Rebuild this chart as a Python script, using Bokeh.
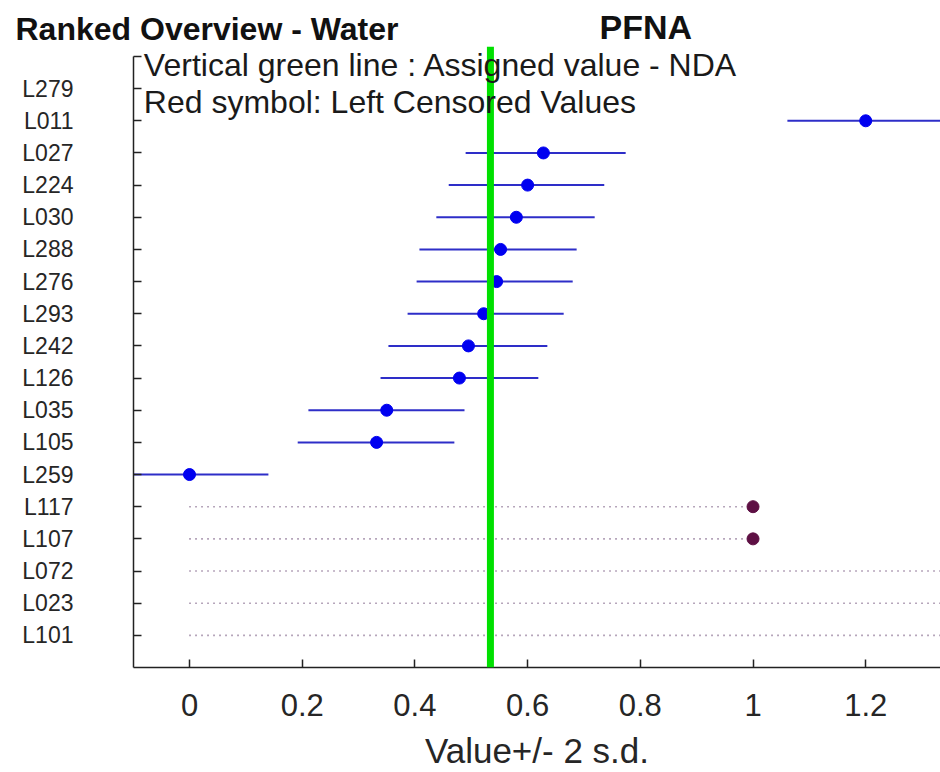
from bokeh.plotting import figure
from bokeh.layouts import column
from bokeh.models import Span, Label, FixedTicker, ColumnDataSource
from bokeh.embed import file_html
from bokeh.resources import INLINE

# ---- data ----
labs = ["L279", "L011", "L027", "L224", "L030", "L288", "L276", "L293", "L242",
        "L126", "L035", "L105", "L259", "L117", "L107", "L072", "L023", "L101"]

meas_labs = ["L011", "L027", "L224", "L030", "L288", "L276", "L293", "L242",
             "L126", "L035", "L105", "L259"]
meas_val = [1.200, 0.628, 0.600, 0.580, 0.552, 0.545, 0.522, 0.495, 0.479, 0.350, 0.332, 0.000]
meas_low = [1.061, 0.490, 0.460, 0.438, 0.408, 0.403, 0.387, 0.353, 0.339, 0.211, 0.192, -0.140]
meas_high = [1.340, 0.774, 0.736, 0.719, 0.687, 0.680, 0.664, 0.635, 0.619, 0.488, 0.470, 0.140]

cens_labs = ["L117", "L107", "L072", "L023", "L101"]
cens_val = [1.0, 1.0, 2.0, 2.0, 2.0]
cens_start = [0.0, 0.0, 0.0, 0.0, 0.0]

assigned_value = 0.534
x_ticks = [0, 0.2, 0.4, 0.6, 0.8, 1.0, 1.2]
x_tick_labels = ["0", "0.2", "0.4", "0.6", "0.8", "1", "1.2"]

title_left = "Ranked Overview - Water"
title_right = "PFNA"
note1 = "Vertical green line : Assigned value -  NDA"
note2 = "Red symbol: Left Censored Values"
x_label = "Value+/- 2 s.d."

# ---- positions of categories ----
n = len(labs)
ypos = {lab: n - i for i, lab in enumerate(labs)}

FONT = "Liberation Sans"
W = 940
HEAD_H = 46
MAIN_H = 726

# ---- header with the titles ----
head = figure(width=W, height=HEAD_H, x_range=(0, W), y_range=(0, HEAD_H),
              title=None, x_axis_location=None, y_axis_location=None,
              min_border=0, output_backend="svg", toolbar_location=None,
              background_fill_color="white", border_fill_color="white")
head.frame_align = False
head.outline_line_color = None
head.grid.visible = False
head.add_layout(Label(x=15, y=18, text=title_left, text_font=FONT,
                      text_font_size="32px", text_font_style="bold",
                      text_baseline="middle", text_color="#111111"))
head.add_layout(Label(x=599, y=19.5, text=title_right, text_font=FONT,
                      text_font_size="34px", text_font_style="bold",
                      text_baseline="middle", text_color="#111111"))

# ---- main chart ----
p = figure(width=W, height=MAIN_H, x_range=(-0.0994, 1.3327), y_range=(0, 19.31),
           title=None, min_border_left=133, min_border_right=0, min_border_top=0,
           min_border_bottom=104, output_backend="svg", toolbar_location=None,
           background_fill_color="white", border_fill_color="white")
p.frame_align = False
p.outline_line_color = None
p.grid.visible = False

msrc = ColumnDataSource(dict(
    lab=meas_labs, val=meas_val, low=meas_low, high=meas_high,
    y=[ypos[l] for l in meas_labs]))
csrc = ColumnDataSource(dict(
    lab=cens_labs, val=cens_val, start=cens_start,
    y=[ypos[l] for l in cens_labs]))

# censored dotted lines + symbols
p.segment(x0="start", x1="val", y0="y", y1="y", source=csrc,
          line_color="#6e4e78", line_width=1.6, line_dash="1 5")
p.scatter(x="val", y="y", source=csrc, size=12, fill_color="#5e1044",
          line_color="#5e1044")

# error bars + points
p.segment(x0="low", x1="high", y0="y", y1="y", source=msrc,
          line_color="#2e2ec8", line_width=2)
p.scatter(x="val", y="y", source=msrc, size=12, fill_color="#0000f0",
          line_color="#0000f0")

# assigned value line
p.add_layout(Span(location=assigned_value, dimension="height",
                  line_color="#00e000", line_width=7))

# axes
xa = p.xaxis[0]
xa.ticker = FixedTicker(ticks=x_ticks)
xa.major_label_overrides = {t: s for t, s in zip(x_ticks, x_tick_labels)}
xa.major_tick_in = 8
xa.major_tick_out = 0
xa.minor_tick_line_color = None
xa.major_label_text_font = FONT
xa.major_label_text_font_size = "31px"
xa.major_label_text_color = "#262626"
xa.major_label_standoff = 26
xa.axis_line_color = "#222222"
xa.axis_line_width = 1.5
xa.major_tick_line_color = "#222222"
xa.major_tick_line_width = 1.5
xa.axis_label = x_label
xa.axis_label_text_font = FONT
xa.axis_label_text_font_size = "35px"
xa.axis_label_text_font_style = "normal"
xa.axis_label_text_color = "#262626"
xa.axis_label_standoff = 12

ya = p.yaxis[0]
ya.bounds = (0, n + 1)
ya.ticker = FixedTicker(ticks=list(range(1, n + 2)))
ov = {ypos[l]: l for l in labs}
ov[n + 1] = ""
ya.major_label_overrides = ov
ya.major_tick_in = 8
ya.major_tick_out = 0
ya.minor_tick_line_color = None
ya.major_label_text_font = FONT
ya.major_label_text_font_size = "23px"
ya.major_label_text_color = "#262626"
ya.major_label_standoff = 60
ya.axis_line_color = "#222222"
ya.axis_line_width = 1.5
ya.major_tick_line_color = "#222222"
ya.major_tick_line_width = 1.5

# notes inside plot (drawn above the green line)
p.add_layout(Label(x=-0.081, y=18.72, text=note1, text_font=FONT,
                   text_font_size="32px", text_baseline="middle",
                   text_color="#1a1a1a", level="overlay"))
p.add_layout(Label(x=-0.081, y=17.59, text=note2, text_font=FONT,
                   text_font_size="32px", text_baseline="middle",
                   text_color="#1a1a1a", level="overlay"))

layout = column(head, p, spacing=0)

open("out.html", "w").write(file_html(layout, INLINE))
